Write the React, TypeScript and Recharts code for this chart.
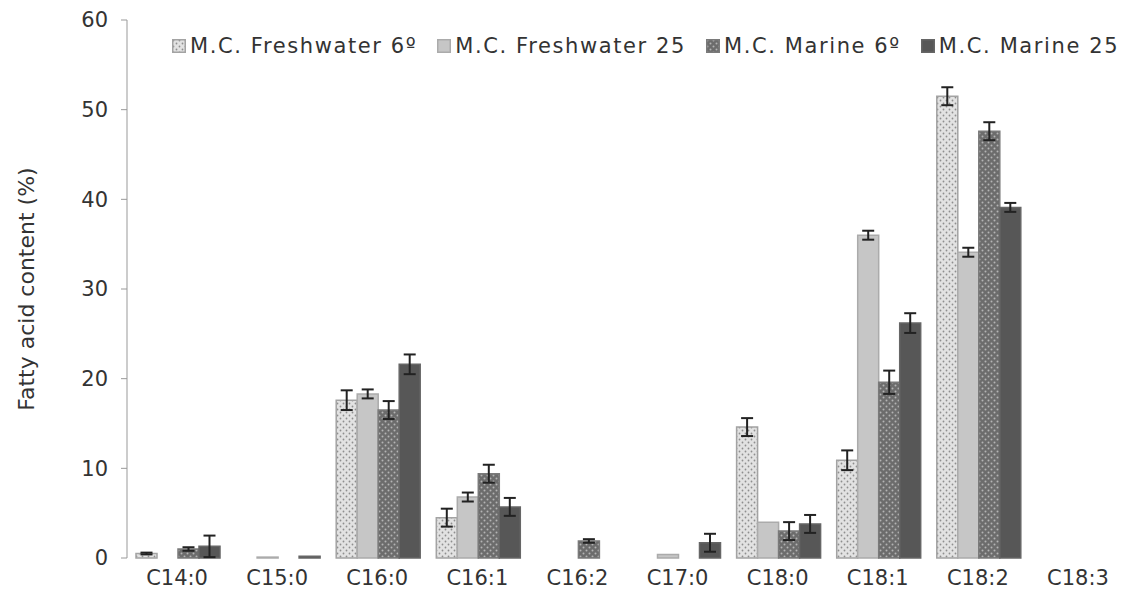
import { Bar, BarChart, ErrorBar, Legend, XAxis, YAxis } from 'recharts';

const categories = ['C14:0', 'C15:0', 'C16:0', 'C16:1', 'C16:2', 'C17:0', 'C18:0', 'C18:1', 'C18:2', 'C18:3'];

const freshwater6 = [0.5, 0, 17.6, 4.5, 0, 0, 14.6, 10.9, 51.5, 0];
const freshwater6Err = [0.1, null, 1.1, 1.0, null, null, 1.0, 1.1, 1.0, null];
const freshwater25 = [0, 0.1, 18.3, 6.8, 0, 0.4, 4.0, 36.0, 34.1, 0];
const freshwater25Err = [null, null, 0.5, 0.5, null, null, null, 0.5, 0.5, null];
const marine6 = [1.0, 0, 16.5, 9.4, 1.9, 0, 3.0, 19.6, 47.6, 0];
const marine6Err = [0.2, null, 1.0, 1.0, 0.2, null, 1.0, 1.3, 1.0, null];
const marine25 = [1.3, 0.2, 21.6, 5.7, 0, 1.7, 3.8, 26.2, 39.1, 0];
const marine25Err = [1.2, null, 1.1, 1.0, null, 1.0, 1.0, 1.1, 0.5, null];

const yTicks = [0, 10, 20, 30, 40, 50, 60];
const edgeTicks = [0, 1, 2, 3, 4, 5, 6, 7, 8, 9, 10];

const data = categories.map((name, i) => ({
  name,
  fw6: freshwater6[i],
  fw6Err: freshwater6Err[i],
  fw25: freshwater25[i],
  fw25Err: freshwater25Err[i],
  m6: marine6[i],
  m6Err: marine6Err[i],
  m25: marine25[i],
  m25Err: marine25Err[i],
}));

const FONT = '"DejaVu Sans", Verdana, sans-serif';

const series = [
  { key: 'fw6', err: 'fw6Err', name: 'M.C. Freshwater 6º', fill: 'url(#dotsLight)', stroke: '#a3a3a3' },
  { key: 'fw25', err: 'fw25Err', name: 'M.C. Freshwater 25', fill: '#c6c6c6', stroke: '#ababab' },
  { key: 'm6', err: 'm6Err', name: 'M.C. Marine 6º', fill: 'url(#dotsDark)', stroke: '#7a7a7a' },
  { key: 'm25', err: 'm25Err', name: 'M.C. Marine 25', fill: '#575757', stroke: '#666666' },
];

function LegendContent() {
  return (
    <div
      style={{
        display: 'flex',
        gap: 20,
        fontFamily: FONT,
        fontSize: 21,
        letterSpacing: 1.6,
        color: '#333',
        whiteSpace: 'nowrap',
      }}
    >
      {series.map((s) => (
        <span key={s.key} style={{ display: 'flex', alignItems: 'center' }}>
          <svg width={14} height={14} style={{ marginRight: 4 }}>
            <rect x={0.75} y={0.75} width={12.5} height={12.5} fill={s.fill} stroke={s.stroke} strokeWidth={1.5} />
          </svg>
          {s.name}
        </span>
      ))}
    </div>
  );
}

export default function App() {
  return (
    <div style={{ position: 'absolute', left: 0, top: 0, background: '#fff' }}>
      <BarChart
        width={1135}
        height={603}
        data={data}
        margin={{ top: 20, right: 7, left: 0, bottom: 0 }}
        barCategoryGap={9}
        barGap={0}
      >
        <defs>
          <pattern id="dotsLight" width={6} height={6} patternUnits="userSpaceOnUse">
            <rect width={6} height={6} fill="#e2e2e2" />
            <circle cx={1.5} cy={1.5} r={0.9} fill="#8e8e8e" />
            <circle cx={4.5} cy={4.5} r={0.9} fill="#8e8e8e" />
          </pattern>
          <pattern id="dotsDark" width={6} height={6} patternUnits="userSpaceOnUse">
            <rect width={6} height={6} fill="#6c6c6c" />
            <circle cx={1.5} cy={1.5} r={1} fill="#b4b4b4" />
            <circle cx={4.5} cy={4.5} r={1} fill="#b4b4b4" />
          </pattern>
        </defs>
        <XAxis
          xAxisId="edge"
          type="number"
          domain={[0, 10]}
          ticks={edgeTicks}
          tick={false}
          height={0}
          tickSize={6}
          stroke="#999"
        />
        <XAxis
          xAxisId="cat"
          dataKey="name"
          axisLine={false}
          tickLine={false}
          tickSize={0}
          tickMargin={12}
          height={45}
          tick={{ fontFamily: FONT, fontSize: 21, fill: '#333' }}
        />
        <YAxis
          width={127}
          domain={[0, 60]}
          ticks={yTicks}
          tickSize={6}
          tickMargin={13}
          stroke="#999"
          tick={{ fontFamily: FONT, fontSize: 21, fill: '#333' }}
          label={{
            value: 'Fatty acid content (%)',
            angle: -90,
            position: 'insideLeft',
            offset: 26,
            style: { fontFamily: FONT, fontSize: 22, fill: '#333', textAnchor: 'middle' },
          }}
        />
        <Legend
          layout="horizontal"
          verticalAlign="middle"
          align="center"
          wrapperStyle={{ top: 34, left: 172, width: 'auto' }}
          content={() => <LegendContent />}
        />
        {series.map((s) => (
          <Bar
            key={s.key}
            xAxisId="cat"
            dataKey={s.key}
            name={s.name}
            fill={s.fill}
            stroke={s.stroke}
            strokeWidth={1.5}
            isAnimationActive={false}
          >
            <ErrorBar dataKey={s.err} width={6} stroke="#222" strokeWidth={2} direction="y" />
          </Bar>
        ))}
      </BarChart>
    </div>
  );
}
